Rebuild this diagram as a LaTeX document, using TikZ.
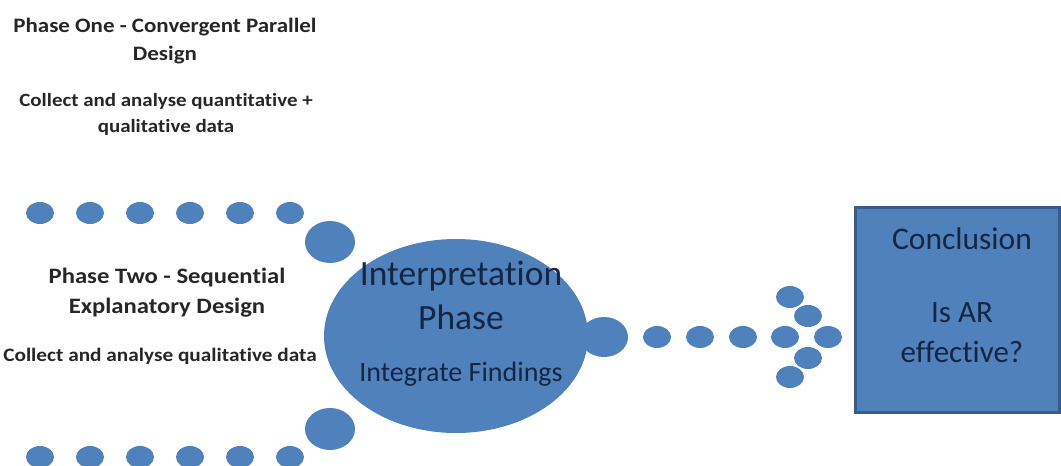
\documentclass[tikz,border=0pt]{standalone}
\usepackage{fontspec}
\setmainfont[Ligatures=NoCommon]{Carlito}
\newfontfamily\widecarlito[FakeStretch=1.12,Ligatures=NoCommon]{Carlito}
\usetikzlibrary{shapes.geometric}
\definecolor{dotblue}{HTML}{4F81BD}
\definecolor{boxedge}{HTML}{385D8A}
\definecolor{inktext}{HTML}{172640}
\begin{document}
\begin{tikzpicture}[x=1pt,y=-1pt,
  dot/.style={ellipse,fill=dotblue,inner sep=0pt,minimum width=28pt,minimum height=22pt},
  bigdot/.style={ellipse,fill=dotblue,inner sep=0pt,minimum width=50pt,minimum height=42pt},
  lefttext/.style={align=center,inner sep=0pt,text=black!85},
  inner/.style={align=center,inner sep=0pt,text=inktext}]
\useasboundingbox (0,0) rectangle (1061,466);

% phase one captions
\node[lefttext,font=\widecarlito\bfseries\fontsize{20.5}{28}\selectfont] (p1title) at (165,41) {Phase One - Convergent Parallel\\Design};
\node[lefttext,font=\widecarlito\bfseries\fontsize{18.7}{26}\selectfont] (p1sub) at (166,114) {Collect and analyse quantitative +\\qualitative data};

% upper and lower rows of dots feeding the central ellipse
\foreach \i/\x in {1/40,2/90,3/140,4/190,5/240,6/290}{
  \node[dot] (top\i) at (\x,213) {};
  \node[dot] (bot\i) at (\x,457) {};
}
\node[bigdot] (topjoin) at (330,242) {};
\node[bigdot] (botjoin) at (330,429) {};

% phase two captions
\node[lefttext,font=\widecarlito\bfseries\fontsize{22}{30}\selectfont] (p2title) at (167,293) {Phase Two - Sequential\\Explanatory Design};
\node[lefttext,font=\widecarlito\bfseries\fontsize{19}{24}\selectfont] (p2sub) at (160,356) {Collect and analyse qualitative data};

% interpretation phase
\node[ellipse,fill=dotblue,inner sep=0pt,minimum width=264pt,minimum height=194pt] (interp) at (456,336) {};
\node[inner,font=\fontsize{35.5}{44}\selectfont] (interptitle) at (461,295) {Interpretation\\Phase};
\node[inner,font=\fontsize{28}{32}\selectfont] (interpsub) at (461,374) {Integrate Findings};
\node[ellipse,fill=dotblue,inner sep=0pt,minimum width=48pt,minimum height=40pt] (outjoin) at (604,337) {};

% dotted arrow towards the conclusion
\foreach \i/\x in {1/657,2/700,3/743,4/785}{
  \node[dot] (run\i) at (\x,337) {};
}
\node[dot] (tip) at (828,337) {};
\node[dot] (up1) at (808,316) {};
\node[dot] (up2) at (790,297) {};
\node[dot] (dn1) at (808,358) {};
\node[dot] (dn2) at (790,377) {};

% conclusion box
\node[draw=boxedge,line width=2.5pt,fill=dotblue,minimum width=204pt,minimum height=205pt,inner sep=0pt] (concl) at (957.5,310) {};
\node[inner,font=\fontsize{31.5}{40}\selectfont] (concltitle) at (962,239) {Conclusion};
\node[inner,font=\fontsize{31}{40}\selectfont] (conclq) at (962,333) {Is AR\\effective?};
\end{tikzpicture}
\end{document}
